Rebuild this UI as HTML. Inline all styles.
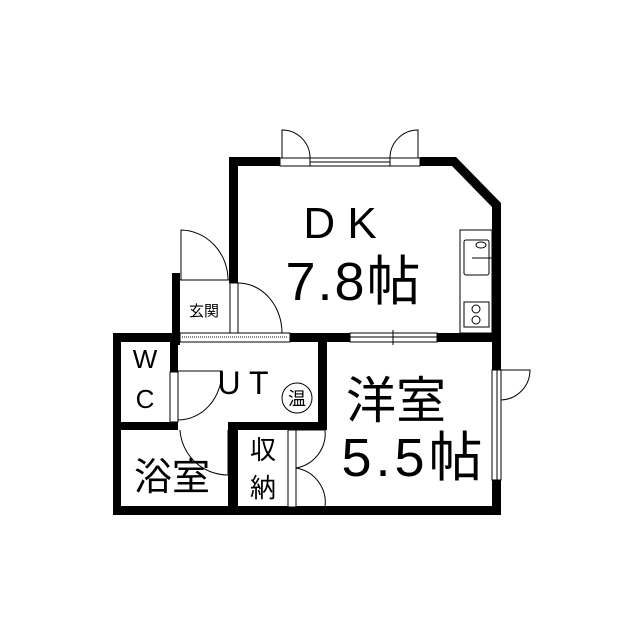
<!DOCTYPE html>
<html><head><style>html,body{margin:0;padding:0;background:#fff}svg{display:block}text{font-family:"Liberation Sans","Noto Sans CJK JP",sans-serif;fill:#000}</style></head>
<body><svg width="639" height="640" viewBox="0 0 639 640" xmlns="http://www.w3.org/2000/svg">
<rect width="639" height="640" fill="#fff"/>
<g fill="#000">
<rect x="230" y="157" width="222" height="9"/>
<polygon points="448,157 456,157 501,203 501,212 492,212 492,207 452,166 448,166"/>
<rect x="492" y="205" width="9" height="310"/>
<rect x="229" y="157" width="9" height="126"/>
<rect x="172" y="273" width="8" height="72"/>
<rect x="113" y="333" width="67" height="9"/>
<rect x="290" y="333" width="60" height="9"/>
<rect x="437" y="333" width="64" height="9"/>
<rect x="113" y="333" width="8" height="182"/>
<rect x="170" y="342" width="8" height="30"/>
<rect x="113" y="422" width="65" height="8"/>
<rect x="228" y="422" width="99" height="8"/>
<rect x="318" y="333" width="9" height="97"/>
<rect x="228" y="422" width="10" height="93"/>
<rect x="113" y="506" width="388" height="9"/>
</g>
<g fill="#fff" stroke="#000" stroke-width="1">
<rect x="280" y="156" width="140" height="11" stroke="none"/>
<line x1="280" y1="158" x2="420" y2="158"/><line x1="280" y1="166" x2="420" y2="166"/>
<line x1="310" y1="162" x2="390" y2="162"/>
<rect x="280" y="158" width="30" height="8"/><rect x="390" y="158" width="30" height="8"/>
<path d="M282 158 V130 A28 28 0 0 1 310 158" fill="none"/>
<path d="M418 158 V130 A28 28 0 0 0 390 158" fill="none"/>
<rect x="180" y="273" width="49" height="7" stroke="none"/>
<path d="M181 280 V230 A48 50 0 0 1 228 280" fill="none"/>
<line x1="180" y1="280" x2="229" y2="280"/>
<rect x="230" y="283" width="8" height="50"/>
<path d="M238 283 A44 50 0 0 1 282 333" fill="none"/>
<rect x="180" y="333" width="110" height="9"/>
<line x1="182" y1="337" x2="288" y2="337" stroke-dasharray="1 1"/>
<rect x="350" y="333" width="87" height="9"/>
<line x1="350" y1="337" x2="437" y2="337"/><line x1="393" y1="330" x2="393" y2="345"/>
<rect x="170" y="372" width="8" height="50"/>
<path d="M178 371 H222 A44 49 0 0 1 178 420" fill="none"/>
<path d="M180 430 A48 48 0 0 0 228 475 V430" fill="none"/>
<rect x="288" y="430" width="8" height="77"/>
<path d="M296 430 H325 A35 35 0 0 1 296 468 A35 35 0 0 1 325 507 H296" fill="none"/>
<rect x="492" y="370" width="9" height="110"/>
<line x1="497" y1="370" x2="497" y2="480"/>
<path d="M501 370 H530 A30 30 0 0 1 501 400" fill="none"/>
<rect x="460" y="230" width="32" height="103"/>
<rect x="464" y="240" width="25" height="35" rx="2"/>
<ellipse cx="481" cy="245" rx="5" ry="3"/>
<line x1="472" y1="258" x2="492" y2="258"/>
<rect x="464" y="302" width="25" height="25"/>
<circle cx="476" cy="309" r="4"/><circle cx="476" cy="320" r="4"/>
<circle cx="297" cy="398" r="15"/>
</g>
<text x="340" y="238" font-size="44" text-anchor="middle">D K</text>
<text x="354" y="300" font-size="54" text-anchor="middle" letter-spacing="2">7.8帖</text>
<text x="204" y="316" font-size="15" text-anchor="middle">玄関</text>
<text x="145" y="368" font-size="26" text-anchor="middle">W</text>
<text x="145" y="408" font-size="26" text-anchor="middle">C</text>
<text x="243" y="394" font-size="32" text-anchor="middle">U T</text>
<text x="297" y="405" font-size="18" text-anchor="middle">温</text>
<text x="396" y="418" font-size="50" text-anchor="middle">洋室</text>
<text x="414" y="476" font-size="54" text-anchor="middle" letter-spacing="4">5.5帖</text>
<text x="172" y="490" font-size="38" text-anchor="middle">浴室</text>
<text x="263" y="459" font-size="26" text-anchor="middle">収</text>
<text x="263" y="497" font-size="26" text-anchor="middle">納</text>
</svg></body></html>
